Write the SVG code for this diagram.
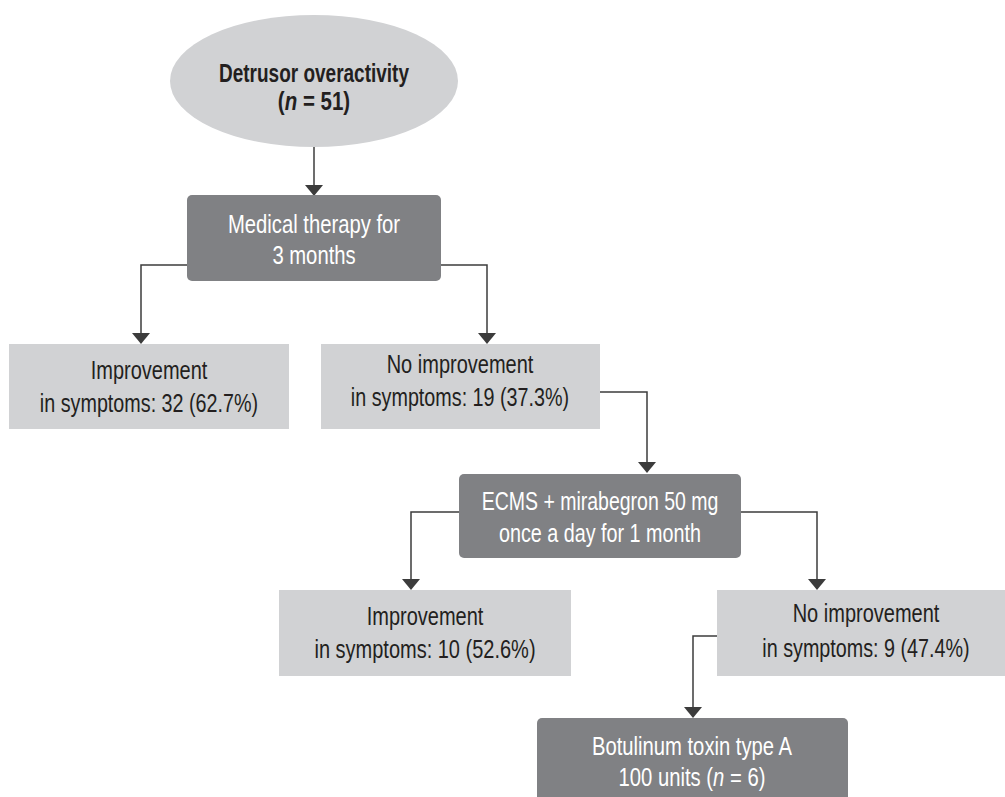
<svg xmlns="http://www.w3.org/2000/svg" width="1005" height="797" viewBox="0 0 1005 797">
<defs>
<style>
.dark{fill:#808184;}
.light{fill:#d1d2d4;}
.tw{fill:#ffffff;font-family:"Liberation Sans",Arial,sans-serif;font-size:25px;text-anchor:middle;}
.tb{fill:#231f20;font-family:"Liberation Sans",Arial,sans-serif;font-size:25px;text-anchor:middle;}
.conn{fill:none;stroke:#3c3c3c;stroke-width:1.5;}
.head{fill:#3c3c3c;}
</style>
</defs>
<rect width="1005" height="797" fill="#ffffff"/>
<g id="connectors">
<path class="conn" d="M314,147 L314,190"/>
<path class="conn" d="M187,265 L141,265 L141,338"/>
<path class="conn" d="M441,265 L487,265 L487,338"/>
<path class="conn" d="M600,392 L647,392 L647,467"/>
<path class="conn" d="M459,512 L411,512 L411,584"/>
<path class="conn" d="M741,512 L817,512 L817,584"/>
<path class="conn" d="M717,636 L693,636 L693,712"/>
<path class="head" d="M305,185 L323,185 L314,196 Z"/>
<path class="head" d="M132,333 L150,333 L141,344 Z"/>
<path class="head" d="M478,333 L496,333 L487,344 Z"/>
<path class="head" d="M638,462 L656,462 L647,473 Z"/>
<path class="head" d="M402,579 L420,579 L411,590 Z"/>
<path class="head" d="M808,579 L826,579 L817,590 Z"/>
<path class="head" d="M684,707 L702,707 L693,718 Z"/>
</g>
<g id="n-detrusor">
<ellipse class="light" cx="314" cy="81" rx="144" ry="66"/>
<text class="tb" font-weight="bold" transform="translate(314,82) scale(0.76,1)">Detrusor overactivity</text>
<text class="tb" font-weight="bold" transform="translate(314,110) scale(0.82,1)">(<tspan font-style="italic">n</tspan> = 51)</text>
</g>
<g id="n-medical">
<rect class="dark" x="187" y="195" width="254" height="86" rx="5"/>
<text class="tw" transform="translate(314,233) scale(0.81,1)">Medical therapy for</text>
<text class="tw" transform="translate(314,264) scale(0.81,1)">3 months</text>
</g>
<g id="n-improve1">
<rect class="light" x="9" y="344" width="280" height="85"/>
<text class="tb" transform="translate(149,379) scale(0.8,1)">Improvement</text>
<text class="tb" transform="translate(149,412) scale(0.79,1)">in symptoms: 32 (62.7%)</text>
</g>
<g id="n-noimprove1">
<rect class="light" x="321" y="344" width="279" height="85"/>
<text class="tb" transform="translate(460,373) scale(0.8,1)">No improvement</text>
<text class="tb" transform="translate(460,406) scale(0.79,1)">in symptoms: 19 (37.3%)</text>
</g>
<g id="n-ecms">
<rect class="dark" x="459" y="474" width="282" height="84" rx="5"/>
<text class="tw" transform="translate(600,510) scale(0.78,1)">ECMS + mirabegron 50 mg</text>
<text class="tw" transform="translate(600,542) scale(0.79,1)">once a day for 1 month</text>
</g>
<g id="n-improve2">
<rect class="light" x="279" y="590" width="292" height="86"/>
<text class="tb" transform="translate(425,625) scale(0.8,1)">Improvement</text>
<text class="tb" transform="translate(425,658) scale(0.8,1)">in symptoms: 10 (52.6%)</text>
</g>
<g id="n-noimprove2">
<rect class="light" x="717" y="590" width="288" height="86"/>
<text class="tb" transform="translate(866,622) scale(0.8,1)">No improvement</text>
<text class="tb" transform="translate(866,657) scale(0.79,1)">in symptoms: 9 (47.4%)</text>
</g>
<g id="n-botulinum">
<rect class="dark" x="537" y="718" width="311" height="90" rx="5"/>
<text class="tw" transform="translate(692,755) scale(0.81,1)">Botulinum toxin type A</text>
<text class="tw" transform="translate(692,786) scale(0.81,1)">100 units (<tspan font-style="italic">n</tspan> = 6)</text>
</g>
</svg>
